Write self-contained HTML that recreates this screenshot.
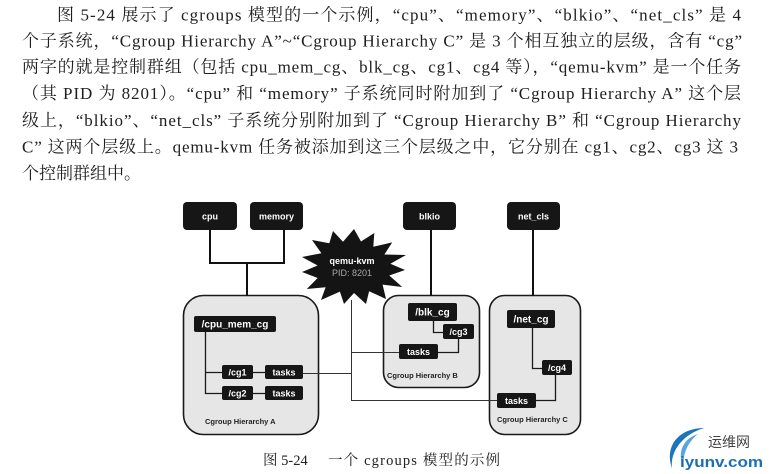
<!DOCTYPE html>
<html><head><meta charset="utf-8"><style>
html,body{margin:0;padding:0;background:#fff;}
svg{display:block;}
.p{font-family:"Liberation Serif","Noto Serif CJK SC",serif;font-size:17px;fill:#1e1e1e;}
.b{font-family:"Liberation Sans","DejaVu Sans",sans-serif;font-weight:bold;fill:#fff;text-anchor:middle;}
.h{font-family:"Liberation Sans","DejaVu Sans",sans-serif;font-weight:bold;fill:#222;font-size:7.5px;}
</style></head><body>
<svg width="772" height="474" viewBox="0 0 772 474" xmlns="http://www.w3.org/2000/svg">
<rect width="772" height="474" fill="#fff"/>
<!-- paragraph -->
<text class="p" x="57" y="20.5" textLength="684" lengthAdjust="spacing">图 5-24 展示了 cgroups 模型的一个示例，“cpu”、“memory”、“blkio”、“net_cls” 是 4</text>
<text class="p" x="22" y="46.5" textLength="720" lengthAdjust="spacing">个子系统，“Cgroup Hierarchy A”~“Cgroup Hierarchy C” 是 3 个相互独立的层级，含有 “cg”</text>
<text class="p" x="22" y="72.5" textLength="719" lengthAdjust="spacing">两字的就是控制群组（包括 cpu_mem_cg、blk_cg、cg1、cg4 等），“qemu-kvm” 是一个任务</text>
<text class="p" x="22" y="99" textLength="719" lengthAdjust="spacing">（其 PID 为 8201）。“cpu” 和 “memory” 子系统同时附加到了 “Cgroup Hierarchy A” 这个层</text>
<text class="p" x="22" y="126" textLength="719" lengthAdjust="spacing">级上，“blkio”、“net_cls” 子系统分别附加到了 “Cgroup Hierarchy B” 和 “Cgroup Hierarchy</text>
<text class="p" x="22" y="152.5" textLength="716" lengthAdjust="spacing">C” 这两个层级上。qemu-kvm 任务被添加到这三个层级之中，它分别在 cg1、cg2、cg3 这 3</text>
<text class="p" x="22" y="179">个控制群组中。</text>

<!-- hierarchy boxes -->
<rect x="183.5" y="295.5" width="135" height="139" rx="20" fill="#e6e6e6" stroke="#1a1a1a" stroke-width="1.6"/>
<rect x="383.5" y="295.5" width="96" height="92" rx="15" fill="#e6e6e6" stroke="#1a1a1a" stroke-width="1.6"/>
<rect x="489.5" y="295.5" width="91" height="139" rx="15" fill="#e6e6e6" stroke="#1a1a1a" stroke-width="1.6"/>

<!-- subsystem connectors -->
<g fill="none" stroke="#111" stroke-width="2">
<path d="M210 230 V263 H284 V230 M247 263 V296"/>
<path d="M431 230 V296"/>
<path d="M533 230 V296"/>
</g>

<!-- subsystem boxes -->
<rect x="183" y="202" width="54" height="28" rx="4" fill="#161616"/>
<rect x="250" y="202" width="53" height="28" rx="4" fill="#161616"/>
<rect x="403" y="202" width="53" height="28" rx="4" fill="#161616"/>
<rect x="507" y="202" width="53" height="28" rx="4" fill="#161616"/>
<text class="b" x="210" y="219.5" font-size="9">cpu</text>
<text class="b" x="276.5" y="219.5" font-size="9">memory</text>
<text class="b" x="429.5" y="219.5" font-size="9">blkio</text>
<text class="b" x="533.5" y="219.5" font-size="9">net_cls</text>

<!-- qemu connectors -->
<g fill="none" stroke="#333" stroke-width="1">
<path d="M351.5 300 V400.5 H497"/>
<path d="M351.5 352.5 H399"/>
<path d="M303 373.5 H351.5"/>
</g>

<!-- inner connectors -->
<g fill="none" stroke="#1a1a1a" stroke-width="1.3">
<path d="M205.5 332 V393.5 H222 M205.5 372.5 H222"/>
<path d="M253 372.5 H265 M253 393.5 H265"/>
<path d="M433.5 321 V332.5 H443"/>
<path d="M458.5 339 V352.5 H438"/>
<path d="M532.5 328 V368.5 H542"/>
<path d="M555.5 375 V400.5 H536"/>
</g>

<!-- hierarchy A nodes -->
<rect x="194" y="316" width="82" height="16" rx="2" fill="#161616"/>
<text class="b" x="235" y="327.5" font-size="10" font-weight="normal">/cpu_mem_cg</text>
<rect x="222" y="365" width="31" height="14" rx="2" fill="#161616"/>
<text class="b" x="237.5" y="375.5" font-size="9">/cg1</text>
<rect x="265" y="365" width="38" height="14" rx="2" fill="#161616"/>
<text class="b" x="284" y="375.5" font-size="9">tasks</text>
<rect x="222" y="386" width="31" height="14" rx="2" fill="#161616"/>
<text class="b" x="237.5" y="396.5" font-size="9">/cg2</text>
<rect x="265" y="386" width="38" height="14" rx="2" fill="#161616"/>
<text class="b" x="284" y="396.5" font-size="9">tasks</text>
<text class="h" x="205" y="424">Cgroup Hierarchy A</text>

<!-- hierarchy B nodes -->
<rect x="408" y="303" width="49" height="18" rx="2" fill="#161616"/>
<text class="b" x="432.5" y="315.5" font-size="10">/blk_cg</text>
<rect x="443" y="324" width="31" height="15" rx="2" fill="#161616"/>
<text class="b" x="458.5" y="335" font-size="9">/cg3</text>
<rect x="399" y="344" width="39" height="15" rx="2" fill="#161616"/>
<text class="b" x="418.5" y="355" font-size="9">tasks</text>
<text class="h" x="387" y="378">Cgroup Hierarchy B</text>

<!-- hierarchy C nodes -->
<rect x="507" y="310" width="48" height="18" rx="2" fill="#161616"/>
<text class="b" x="531" y="322.5" font-size="10">/net_cg</text>
<rect x="542" y="360" width="30" height="15" rx="2" fill="#161616"/>
<text class="b" x="557" y="371" font-size="9">/cg4</text>
<rect x="497" y="393" width="39" height="15" rx="2" fill="#161616"/>
<text class="b" x="516.5" y="404" font-size="9">tasks</text>
<text class="h" x="497" y="422">Cgroup Hierarchy C</text>

<!-- star -->
<polygon fill="#141414" points="354.0,229.0 361.0,241.5 374.3,233.0 373.3,246.8 392.2,242.4 384.4,254.5 406.0,255.0 390.4,263.8 405.0,270.0 389.3,275.5 402.2,287.0 382.6,284.6 386.0,299.0 369.1,291.2 366.0,304.0 354.0,293.0 344.0,304.0 339.9,291.6 321.0,300.0 325.6,287.3 306.8,289.0 317.7,278.0 302.0,272.0 317.6,265.5 302.0,257.0 321.4,253.2 312.0,240.0 329.3,243.3 333.0,231.0 343.0,241.8"/>
<text class="b" x="352" y="264" font-size="9" fill="#e8e8e8">qemu-kvm</text>
<text x="352" y="276" font-size="9" text-anchor="middle" fill="#a8a8a8" font-family="Liberation Sans, DejaVu Sans, sans-serif">PID: 8201</text>

<!-- caption -->
<text x="263" y="465" font-size="14.5" fill="#222" font-family="Liberation Serif, Noto Serif CJK SC, serif">图 5-24</text>
<text x="328" y="465" font-size="14.5" fill="#222" font-family="Liberation Serif, Noto Serif CJK SC, serif" textLength="172" lengthAdjust="spacing">一个 cgroups 模型的示例</text>

<!-- watermark -->
<path d="M704 428 C680 428 664 445 672 468 C670 450 684 434 704 428 Z" fill="#1b75bc"/>
<path d="M698 434 C684 438 676 452 684 468 C682 454 688 442 698 434 Z" fill="#5aa6dc"/>
<text x="708" y="447" font-size="14" fill="#444" font-family="Noto Sans CJK SC, WenQuanYi Zen Hei, sans-serif">运维网</text>
<text x="680" y="467" font-size="15" font-weight="bold" fill="#1b6fb5" font-family="Liberation Sans, sans-serif" textLength="83" lengthAdjust="spacingAndGlyphs">iyunv.com</text>
</svg>
</body></html>
